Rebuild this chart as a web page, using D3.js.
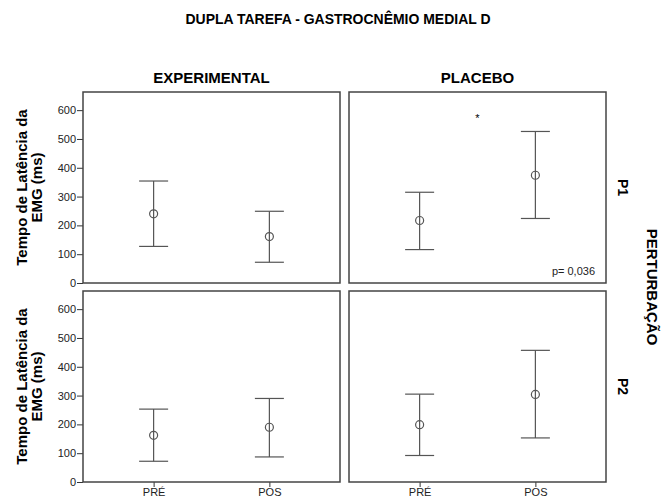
<!DOCTYPE html>
<html>
<head>
<meta charset="utf-8">
<script src="https://cdn.jsdelivr.net/npm/d3@7"></script>
<style>
  body { margin: 0; background: #fff; }
  text { font-family: "Liberation Sans", Arial, sans-serif; fill: #000; }
</style>
</head>
<body>
<div id="chart"></div>
<script>
// Data
const groups = ["EXPERIMENTAL", "PLACEBO"];
const perturbations = ["P1", "P2"];
const moments = ["PRÉ", "POS"];
// panels in order: P1-EXPERIMENTAL, P1-PLACEBO, P2-EXPERIMENTAL, P2-PLACEBO
const meanMs = [[240, 161], [217, 374], [162, 190], [199, 304]];
const lowerMs = [[127, 72], [116, 224], [72, 87], [92, 153]];
const upperMs = [[354, 249], [315, 526], [253, 290], [305, 457]];
const yTicks = [0, 100, 200, 300, 400, 500, 600];

const width = 663;
const height = 503;
const margin = { top: 92, left: 83 };
const panelW = 257;
const panelH = 191;
const gapX = 9;
const gapY = 8;

const svg = d3.select("#chart")
  .append("svg")
  .attr("width", width)
  .attr("height", height);

const xScale = d3.scalePoint().domain(moments).range([0, panelW]).padding(0.61);
const yScale = d3.scaleLinear().domain([0, 663]).range([panelH, 0]);

// Title (condensed look)
svg.append("text")
  .attr("x", 338)
  .attr("y", 24)
  .attr("text-anchor", "middle")
  .attr("textLength", 305)
  .attr("lengthAdjust", "spacingAndGlyphs")
  .style("font-weight", "bold")
  .style("font-size", "15px")
  .text("DUPLA TAREFA - GASTROCNÊMIO MEDIAL D");

// Column headers
groups.forEach((g, c) => {
  svg.append("text")
    .attr("x", margin.left + c * (panelW + gapX) + panelW / 2)
    .attr("y", 83)
    .attr("text-anchor", "middle")
    .style("font-weight", "bold")
    .style("font-size", "15px")
    .text(g);
});

perturbations.forEach((p, r) => {
  const py = margin.top + r * (panelH + gapY);

  // Row labels
  svg.append("text")
    .attr("transform", `translate(618, ${py + panelH / 2}) rotate(90)`)
    .attr("text-anchor", "middle")
    .style("font-weight", "bold")
    .style("font-size", "14px")
    .text(p);

  // Y axis title
  const yt = svg.append("text")
    .attr("transform", `translate(26.5, ${py + panelH / 2}) rotate(-90)`)
    .attr("text-anchor", "middle")
    .style("font-weight", "bold")
    .style("font-size", "15px");
  yt.append("tspan").attr("x", 0).attr("dy", 0).text("Tempo de Latência da");
  yt.append("tspan").attr("x", 0).attr("dy", 15).text("EMG (ms)");

  groups.forEach((g, c) => {
    const k = r * 2 + c;
    const px = margin.left + c * (panelW + gapX);
    const panel = svg.append("g").attr("transform", `translate(${px}, ${py})`);

    if (c === 0) {
      const ya = panel.append("g")
        .call(d3.axisLeft(yScale).tickValues(yTicks).tickSize(6).tickPadding(1));
      ya.select(".domain").remove();
      ya.selectAll("line").attr("stroke", "#333");
      ya.selectAll("text").style("font-size", "11px").style("fill", "#222");
    }
    if (r === 1) {
      const xa = panel.append("g")
        .attr("transform", `translate(0, ${panelH})`)
        .call(d3.axisBottom(xScale).tickSize(5).tickPadding(1));
      xa.select(".domain").remove();
      xa.selectAll("line").attr("stroke", "#333");
      xa.selectAll("text").style("font-size", "11px").style("fill", "#222");
    }

    // error bars
    const bars = panel.selectAll(".bar")
      .data(moments.map((m, i) => ({ m, mean: meanMs[k][i], lo: lowerMs[k][i], hi: upperMs[k][i] })))
      .join("g")
      .attr("class", "bar");

    bars.append("line")
      .attr("x1", d => xScale(d.m)).attr("x2", d => xScale(d.m))
      .attr("y1", d => yScale(d.lo)).attr("y2", d => yScale(d.hi))
      .attr("stroke", "#555").attr("stroke-width", 1.2);
    bars.selectAll(".cap")
      .data(d => [d.lo, d.hi].map(v => ({ m: d.m, v })))
      .join("line")
      .attr("class", "cap")
      .attr("x1", d => xScale(d.m) - 14.5).attr("x2", d => xScale(d.m) + 14.5)
      .attr("y1", d => yScale(d.v)).attr("y2", d => yScale(d.v))
      .attr("stroke", "#555").attr("stroke-width", 1.2);
    bars.append("circle")
      .attr("cx", d => xScale(d.m))
      .attr("cy", d => yScale(d.mean))
      .attr("r", 4)
      .attr("fill", "none")
      .attr("stroke", "#555")
      .attr("stroke-width", 1.2);

    // frame
    panel.append("rect")
      .attr("width", panelW)
      .attr("height", panelH)
      .attr("fill", "none")
      .attr("stroke", "#444")
      .attr("stroke-width", 1.5);

    if (k === 1) {
      panel.append("text")
        .attr("x", panelW / 2)
        .attr("y", yScale(572) + 4)
        .attr("text-anchor", "middle")
        .style("font-size", "11px")
        .text("*");
      panel.append("text")
        .attr("x", panelW - 11)
        .attr("y", panelH - 8)
        .attr("text-anchor", "end")
        .style("font-size", "11px")
        .style("fill", "#222")
        .text("p= 0,036");
    }
  });
});

svg.append("text")
  .attr("transform", `translate(647, ${margin.top + panelH + gapY / 2}) rotate(90)`)
  .attr("text-anchor", "middle")
  .style("font-weight", "bold")
  .style("font-size", "15px")
  .text("PERTURBAÇÃO");
</script>
</body>
</html>
